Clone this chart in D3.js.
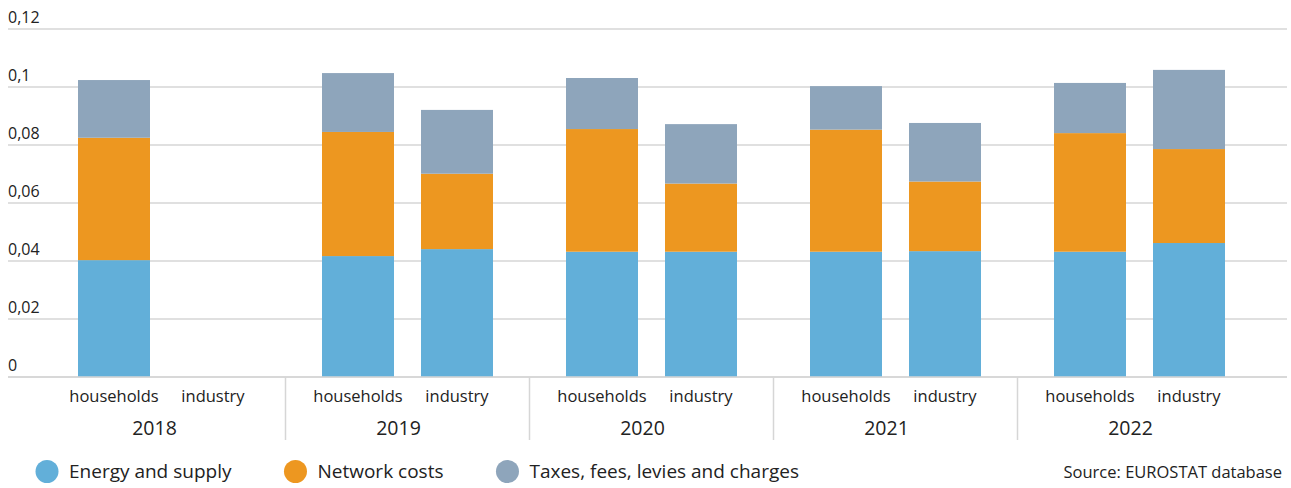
<!DOCTYPE html>
<html><head><meta charset="utf-8">
<script src="https://cdn.jsdelivr.net/npm/d3@7"></script>
<style>
html,body{margin:0;padding:0;background:#fff;}
svg{display:block;font-family:"Open Sans","Noto Sans",sans-serif;}
</style></head>
<body>
<svg id="chart" width="1291" height="488"></svg>
<script>
const years = ["2018","2019","2020","2021","2022"];
const sectors = ["households","industry"];
const seriesNames = ["Energy and supply","Network costs","Taxes, fees, levies and charges"];
const seriesColors = ["#62afd9","#ed9720","#8ea5bb"];
// values per bar, order: 2018 hh, 2018 ind, 2019 hh, 2019 ind, ...
const energySupply = [0.0403, 0, 0.0417, 0.0441, 0.0432, 0.0432, 0.0432, 0.0434, 0.0432, 0.0462];
const networkCosts = [0.0422, 0, 0.0428, 0.0260, 0.0423, 0.0235, 0.0421, 0.0240, 0.0409, 0.0324];
const taxesFees    = [0.0199, 0, 0.0203, 0.0220, 0.0176, 0.0205, 0.0150, 0.0202, 0.0173, 0.0273];
const yTicks = [0, 0.02, 0.04, 0.06, 0.08, 0.1, 0.12];
const sourceText = "Source: EUROSTAT database";

const rows = [];
years.forEach((yr, i) => sectors.forEach((s, j) => {
  const k = i * 2 + j;
  rows.push({year: yr, sector: s, e: energySupply[k], n: networkCosts[k], t: taxesFees[k]});
}));

const svg = d3.select("#chart");
const x0 = d3.scaleBand().domain(years).range([41.5, 1261.5]).padding(0);
const x1 = d3.scaleBand().domain(sectors).range([0, x0.bandwidth()]).paddingInner(0.2727).paddingOuter(0.3687);
const y = d3.scaleLinear().domain([0, 0.12]).range([377, 29]);
const fmt = d3.formatLocale({decimal: ",", thousands: ".", grouping: [3], currency: ["", "€"]}).format("~g");

// gridlines
const grid = svg.append("g");
grid.selectAll("line").data(yTicks).join("line")
  .attr("x1", 8).attr("x2", 1287)
  .attr("y1", d => y(d)).attr("y2", d => y(d))
  .attr("stroke", "#d6d6d6").attr("stroke-width", 1.5);
grid.selectAll("text").data(yTicks).join("text")
  .attr("x", 8).attr("y", d => y(d) - 6)
  .attr("font-size", 16).attr("fill", "#222")
  .text(d => fmt(d));

// stacked bars
const stack = d3.stack().keys(["e","n","t"]);
const stacked = stack(rows);
const gBars = svg.append("g");
stacked.forEach((layer, li) => {
  gBars.append("g").attr("fill", seriesColors[li])
    .selectAll("rect").data(layer.filter(d => d[1] - d[0] > 0)).join("rect")
    .attr("x", d => x0(d.data.year) + x1(d.data.sector))
    .attr("width", x1.bandwidth())
    .attr("y", d => y(d[1]))
    .attr("height", d => y(d[0]) - y(d[1]));
});

// redraw baseline over bars
svg.append("line").attr("x1", 8).attr("x2", 1287).attr("y1", y(0)).attr("y2", y(0))
  .attr("stroke", "#d6d6d6").attr("stroke-width", 1.5);

// group separators
svg.append("g").selectAll("line").data(years.slice(1)).join("line")
  .attr("x1", d => x0(d)).attr("x2", d => x0(d))
  .attr("y1", y(0)).attr("y2", 440)
  .attr("stroke", "#d6d6d6").attr("stroke-width", 1.5);

// category labels
const cat = svg.append("g").attr("font-size", 16.5).attr("fill", "#222").attr("text-anchor", "middle");
rows.forEach(r => {
  cat.append("text").attr("x", x0(r.year) + x1(r.sector) + x1.bandwidth() / 2).attr("y", 402).text(r.sector);
});
// year labels
svg.append("g").attr("font-size", 19.5).attr("fill", "#222").attr("text-anchor", "middle")
  .selectAll("text").data(years).join("text")
  .attr("x", d => x0(d) + x0.bandwidth() / 2 - 9).attr("y", 435).text(d => d);

// legend
const leg = svg.append("g");
let lx = 36;
seriesNames.forEach((name, i) => {
  leg.append("circle").attr("cx", lx + 11).attr("cy", 471.5).attr("r", 11.5).attr("fill", seriesColors[i]);
  const t = leg.append("text").attr("x", lx + 33).attr("y", 478).attr("font-size", 19).attr("fill", "#222").text(name);
  lx += 33 + t.node().getComputedTextLength() + 53;
});

svg.append("text").attr("x", 1282).attr("y", 478).attr("text-anchor", "end")
  .attr("font-size", 16.5).attr("fill", "#222").text(sourceText);
</script>
</body></html>
